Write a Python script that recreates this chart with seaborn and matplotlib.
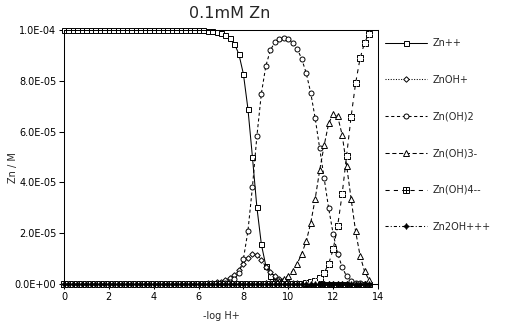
import matplotlib
matplotlib.use("Agg")
import numpy as np
import pandas as pd
import matplotlib.pyplot as plt
import seaborn as sns
from matplotlib.lines import Line2D
from matplotlib.ticker import FuncFormatter, MultipleLocator

# -log H+ grid
ph = [0.0, 0.2, 0.4, 0.6, 0.8, 1.0, 1.2, 1.4, 1.6, 1.8,
      2.0, 2.2, 2.4, 2.6, 2.8, 3.0, 3.2, 3.4, 3.6, 3.8,
      4.0, 4.2, 4.4, 4.6, 4.8, 5.0, 5.2, 5.4, 5.6, 5.8,
      6.0, 6.2, 6.4, 6.6, 6.8, 7.0, 7.2, 7.4, 7.6, 7.8,
      8.0, 8.2, 8.4, 8.6, 8.8, 9.0, 9.2, 9.4, 9.6, 9.8,
      10.0, 10.2, 10.4, 10.6, 10.8, 11.0, 11.2, 11.4, 11.6, 11.8,
      12.0, 12.2, 12.4, 12.6, 12.8, 13.0, 13.2, 13.4, 13.6]

# species concentrations in micromol/L
zn_free = [
    100.0, 100.0, 100.0, 100.0, 100.0, 100.0, 100.0, 100.0, 100.0, 100.0,
    100.0, 100.0, 100.0, 100.0, 100.0, 100.0, 100.0, 100.0, 100.0, 100.0,
    100.0, 100.0, 100.0, 100.0, 100.0, 100.0, 99.98, 99.97, 99.96, 99.94,
    99.9, 99.85, 99.75, 99.6, 99.35, 98.9, 98.2, 96.9, 94.6, 90.4,
    82.6, 69.0, 50.1, 30.2, 15.6, 7.1, 3.1, 1.25, 0.5, 0.2,
    0.08, 0.03, 0.01, 0.0, 0.0, 0.0, 0.0, 0.0, 0.0, 0.0,
    0.0, 0.0, 0.0, 0.0, 0.0, 0.0, 0.0, 0.0, 0.0]
zn_oh = [
    0.0, 0.0, 0.0, 0.0, 0.0, 0.0, 0.0, 0.0, 0.0, 0.0,
    0.0, 0.0, 0.0, 0.0, 0.0, 0.0, 0.0, 0.0, 0.0, 0.0,
    0.001, 0.0015, 0.0024, 0.0038, 0.006, 0.0095, 0.015, 0.024, 0.038, 0.06,
    0.095, 0.15, 0.24, 0.38, 0.60, 0.94, 1.48, 2.33, 3.6, 5.4,
    7.9, 10.4, 12.0, 11.6, 9.4, 6.8, 4.6, 3.0, 1.9, 1.2,
    0.76, 0.47, 0.29, 0.17, 0.10, 0.06, 0.03, 0.02, 0.01, 0.0,
    0.0, 0.0, 0.0, 0.0, 0.0, 0.0, 0.0, 0.0, 0.0]
zn_oh2 = [
    0.0, 0.0, 0.0, 0.0, 0.0, 0.0, 0.0, 0.0, 0.0, 0.0,
    0.0, 0.0, 0.0, 0.0, 0.0, 0.0, 0.0, 0.0, 0.0, 0.0,
    0.0, 0.0, 0.0, 0.0, 0.0, 0.0, 0.0, 0.0, 0.0, 0.0,
    0.001, 0.003, 0.008, 0.02, 0.05, 0.12, 0.30, 0.74, 1.8, 4.3,
    9.9, 20.8, 38.0, 58.2, 75.0, 85.9, 92.0, 95.2, 96.6, 97.0,
    96.5, 95.0, 92.6, 88.6, 83.0, 75.3, 65.2, 53.4, 41.6, 29.8,
    19.8, 12.0, 6.7, 3.0, 1.3, 0.5, 0.2, 0.07, 0.02]
zn_oh3 = [
    0.0, 0.0, 0.0, 0.0, 0.0, 0.0, 0.0, 0.0, 0.0, 0.0,
    0.0, 0.0, 0.0, 0.0, 0.0, 0.0, 0.0, 0.0, 0.0, 0.0,
    0.0, 0.0, 0.0, 0.0, 0.0, 0.0, 0.0, 0.0, 0.0, 0.0,
    0.0, 0.0, 0.0, 0.0, 0.0, 0.0, 0.0, 0.0, 0.0, 0.0,
    0.005, 0.01, 0.03, 0.08, 0.17, 0.31, 0.52, 0.85, 1.36, 2.1,
    3.3, 5.2, 8.0, 12.0, 16.8, 24.0, 33.6, 44.8, 54.6, 63.2,
    67.0, 66.0, 58.8, 46.6, 33.6, 20.8, 11.2, 5.0, 1.6]
zn_oh4 = [
    0.0, 0.0, 0.0, 0.0, 0.0, 0.0, 0.0, 0.0, 0.0, 0.0,
    0.0, 0.0, 0.0, 0.0, 0.0, 0.0, 0.0, 0.0, 0.0, 0.0,
    0.0, 0.0, 0.0, 0.0, 0.0, 0.0, 0.0, 0.0, 0.0, 0.0,
    0.0, 0.0, 0.0, 0.0, 0.0, 0.0, 0.0, 0.0, 0.0, 0.0,
    0.0, 0.0, 0.0, 0.0, 0.0, 0.0, 0.0, 0.0, 0.0, 0.0,
    0.006, 0.02, 0.06, 0.14, 0.32, 0.7, 1.2, 2.4, 4.4, 8.0,
    13.6, 22.8, 35.3, 50.5, 65.8, 79.0, 88.8, 95.0, 98.6]
zn2_oh = [
    0.0, 0.0, 0.0, 0.0, 0.0, 0.0, 0.0, 0.0, 0.0, 0.0,
    0.0, 0.0, 0.0, 0.0, 0.0, 0.0, 0.0, 0.0, 0.0, 0.0,
    0.0, 0.0, 0.0, 0.0, 0.0, 0.0, 0.0, 0.0, 0.0, 0.0,
    0.0, 0.0, 0.0, 0.0, 0.0, 0.0, 0.0, 0.0, 0.0, 0.0,
    0.0, 0.0, 0.0, 0.0, 0.0, 0.0, 0.0, 0.0, 0.0, 0.0,
    0.0, 0.0, 0.0, 0.0, 0.0, 0.0, 0.0, 0.0, 0.0, 0.0,
    0.0, 0.0, 0.0, 0.0, 0.0, 0.0, 0.0, 0.0, 0.0]

species = ["Zn++", "ZnOH+", "Zn(OH)2", "Zn(OH)3-", "Zn(OH)4--", "Zn2OH+++"]
series = [zn_free, zn_oh, zn_oh2, zn_oh3, zn_oh4, zn2_oh]

df = pd.concat(
    [pd.DataFrame({"pH": ph, "M": np.array(v) * 1e-6, "species": s})
     for s, v in zip(species, series)],
    ignore_index=True)

sns.set_theme(style="ticks")
plt.rcParams["font.family"] = ["DejaVu Sans"]

LW = 0.75
MEW = 0.7
styles = {
    "Zn++":      dict(linestyle="-", marker="s", ms=3.6),
    "ZnOH+":     dict(linestyle=(0, (1, 1.5)), marker="D", ms=2.8),
    "Zn(OH)2":   dict(linestyle=(0, (3, 2.5)), marker="o", ms=3.6),
    "Zn(OH)3-":  dict(linestyle=(0, (4, 2.5)), marker="^", ms=3.8),
    "Zn(OH)4--": dict(linestyle=(0, (4, 4)), marker="s", ms=3.8),
    "Zn2OH+++":  dict(linestyle=(0, (3, 2, 1, 2)), marker=(4, 1, 0), ms=4.2),
}

fig = plt.figure(figsize=(5.2, 3.3), dpi=100)
ax = fig.add_axes([64 / 520, 1 - 284 / 330, 314 / 520, 254 / 330])

handles = []
for s in species:
    st = styles[s]
    sub = df[df["species"] == s]
    filled = s == "Zn2OH+++"
    sns.lineplot(data=sub, x="pH", y="M", ax=ax, color="black", lw=LW,
                 linestyle=st["linestyle"], marker=st["marker"],
                 markersize=st["ms"], markeredgewidth=MEW,
                 markerfacecolor="black" if filled else "white",
                 markeredgecolor="black", estimator=None, sort=False,
                 legend=False, clip_on=False)
    h = Line2D([], [], color="black", lw=LW, linestyle=st["linestyle"],
               marker=st["marker"], markersize=st["ms"], markeredgewidth=MEW,
               markerfacecolor="black" if filled else "white",
               markeredgecolor="black")
    if s == "Zn(OH)4--":
        # plus inside the square marker
        sns.lineplot(data=sub, x="pH", y="M", ax=ax, color="black",
                     linestyle="", marker="+", markersize=3.8,
                     markeredgewidth=MEW, estimator=None, sort=False,
                     legend=False, clip_on=False)
        hp = Line2D([], [], color="black", linestyle="", marker="+",
                    markersize=3.8, markeredgewidth=MEW)
        h = (h, hp)
    handles.append(h)

ax.set_xlim(0, 14)
ax.set_ylim(0, 1e-4)
ax.xaxis.set_major_locator(MultipleLocator(2))
ax.yaxis.set_major_locator(MultipleLocator(2e-5))
ax.yaxis.set_major_formatter(FuncFormatter(lambda v, _: f"{v:.1E}"))
ax.tick_params(direction="out", length=3.5, width=LW, labelsize=7,
               pad=2, colors="black")
for sp in ax.spines.values():
    sp.set_linewidth(LW)
    sp.set_color("black")

ax.set_xlabel("-log H+", fontsize=7, labelpad=7)
ax.set_ylabel("Zn / M", fontsize=7)
ax.yaxis.set_label_coords(-0.148, 0.46)

fig.text(230 / 520, 1 - 13 / 330, "0.1mM Zn", ha="center", va="center",
         fontsize=11.5)

ax.legend(handles, species, loc="upper left",
          bbox_to_anchor=(385 / 520, 1 - 38 / 330),
          bbox_transform=fig.transFigure, frameon=False, fontsize=7,
          handlelength=4.3, handletextpad=0.6, labelspacing=2.75,
          borderpad=0, borderaxespad=0, numpoints=1)

fig.savefig("out.png", dpi=100)
